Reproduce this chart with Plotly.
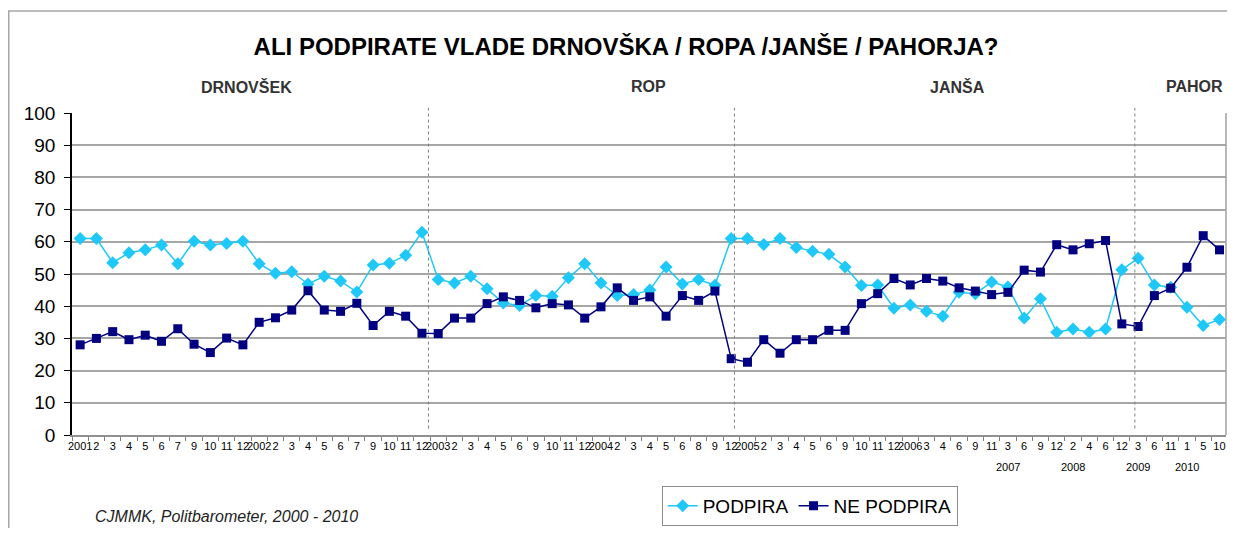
import plotly.graph_objects as go

tick_labels = ["2001", "2", "3", "4", "5", "6", "7", "9", "10", "11", "12",
               "2002", "2", "3", "4", "5", "6", "7", "9", "10", "11", "12",
               "2003", "2", "3", "4", "5", "6", "9", "10", "11", "12",
               "2004", "2", "3", "4", "5", "6", "8", "9", "12",
               "2005", "2", "3", "4", "5", "6", "9", "10", "11", "12",
               "2006", "3", "4", "6", "9", "11",
               "3", "6", "9", "12",
               "2", "4", "6", "12",
               "3", "6", "11",
               "1", "5", "10"]

podpira = [61, 61, 53.5, 56.6, 57.5, 59, 53.2, 60.2, 59, 59.5, 60.2,
           53.2, 50.2, 50.7, 46.9, 49.3, 47.8, 44.4, 52.8, 53.3, 55.8, 63,
           48.3, 47.2, 49.3, 45.4, 41, 40.2, 43.3, 43.1, 48.8, 53.2,
           47.2, 43.3, 43.6, 45, 52.2, 46.9, 48.3, 46.5, 61,
           61, 59.2, 61, 58.2, 57.1, 56.1, 52.2, 46.4, 46.6, 39.4,
           40.4, 38.4, 36.9, 44.3, 43.9, 47.5,
           46, 36.3, 42.3, 31.9,
           32.9, 31.9, 32.9, 51.3,
           54.9, 46.6, 45.9,
           39.7, 34, 35.9]

ne_podpira = [28, 30, 32.1, 29.6, 31, 29.1, 33, 28.2, 25.6, 30.1, 28,
              35, 36.4, 38.8, 44.8, 38.8, 38.4, 40.9, 34, 38.4, 36.9, 31.6,
              31.5, 36.3, 36.3, 40.8, 42.9, 41.8, 39.5, 40.8, 40.4, 36.3,
              39.8, 45.7, 41.8, 42.9, 36.9, 43.3, 41.8, 44.7, 23.7,
              22.6, 29.6, 25.4, 29.6, 29.6, 32.5, 32.5, 40.8, 43.9, 48.6,
              46.6, 48.6, 47.8, 45.7, 44.7, 43.6,
              44.3, 51.2, 50.6, 59.1,
              57.5, 59.4, 60.4, 34.5,
              33.7, 43.3, 45.6,
              52.1, 61.9, 57.5]

# year labels in second row: (index of first survey of year, year)
year_labels = [(57, "2007"), (61, "2008"), (65, "2009"), (68, "2010")]
# government sections: (position index, label)
sections = [(10.25, "DRNOVŠEK"), (34.9, "ROP"), (53.9, "JANŠA")]
section_last = "PAHOR"
# government change dividers (position between surveys)
dividers = [21.4, 40.2, 64.8]

x = list(range(len(tick_labels)))

fig = go.Figure()
fig.add_trace(go.Scatter(
    x=x, y=podpira, name="PODPIRA", mode="lines+markers",
    line=dict(color="#1EC8F8", width=1.5),
    marker=dict(symbol="diamond", size=10, color="#1EC8F8"),
))
fig.add_trace(go.Scatter(
    x=x, y=ne_podpira, name="NE PODPIRA", mode="lines+markers",
    line=dict(color="#000080", width=1.5),
    marker=dict(symbol="square", size=9, color="#000080"),
))

shapes = []
for d in dividers:
    shapes.append(dict(type="line", xref="x", yref="paper", x0=d, x1=d,
                       y0=0.02, y1=1.016,
                       line=dict(color="#808080", width=1, dash="dot")))
# plot-area right border
shapes.append(dict(type="line", xref="paper", yref="paper", x0=1, x1=1, y0=0, y1=1,
                   line=dict(color="#A0A0A0", width=1.5)))
# chart outer frame
shapes.append(dict(type="rect", xref="paper", yref="paper",
                   x0=-0.0548, x1=1.03, y0=-0.40, y1=1.3168,
                   line=dict(color="#A6A6A6", width=1.5)))

annotations = []
for pos, lab in sections:
    annotations.append(dict(x=pos, y=1.081, xref="x", yref="paper", text=lab,
                            showarrow=False, xanchor="center", yanchor="middle",
                            font=dict(family="Liberation Sans, Arial", size=16,
                                      color="#333333", weight="bold")))
annotations.append(dict(x=0.999, y=1.081, xref="paper", yref="paper",
                        text=section_last, showarrow=False, xanchor="right",
                        yanchor="middle",
                        font=dict(family="Liberation Sans, Arial", size=16,
                                  color="#333333", weight="bold")))
for idx, yr in year_labels:
    annotations.append(dict(x=idx, y=-0.099, xref="x", yref="paper", text=yr,
                            showarrow=False, xanchor="center", yanchor="middle",
                            font=dict(family="Liberation Sans Narrow, Arial Narrow, Liberation Sans",
                                      size=11, color="black")))
annotations.append(dict(x=0.018, y=-0.252, xref="paper", yref="paper",
                        text="<i>CJMMK, Politbarometer, 2000 - 2010</i>",
                        showarrow=False, xanchor="left", yanchor="middle",
                        font=dict(family="Liberation Sans, Arial", size=16,
                                  color="#222222")))

# the page body adds an 8px offset; size the figure so that the drawing lands
# where the reference has it and stays inside the visible page
fig.update_layout(
    width=1219, height=520,
    margin=dict(l=64, r=1, t=105, b=93),
    paper_bgcolor="white", plot_bgcolor="white",
    title=dict(text="<b>ALI PODPIRATE VLADE DRNOVŠKA / ROPA /JANŠE / PAHORJA?</b>",
               x=0.507, xanchor="center", y=1 - 39 / 520, yanchor="middle",
               font=dict(family="Liberation Sans, Arial", size=24, color="black")),
    showlegend=True,
    legend=dict(orientation="h", x=0.511, y=-0.282, xanchor="left", yanchor="bottom",
                bordercolor="#8C8C8C", borderwidth=1, bgcolor="white",
                font=dict(family="Liberation Sans, Arial", size=19, color="black"),
                itemwidth=30, tracegroupgap=0),
    shapes=shapes,
    annotations=annotations,
    xaxis=dict(
        range=[-0.5, len(tick_labels) - 0.6],
        tickmode="array", tickvals=x, ticktext=tick_labels, tickangle=0,
        ticks="", showgrid=False, zeroline=False,
        showline=True, linecolor="#909090", linewidth=1.5,
        tickfont=dict(family="Liberation Sans Narrow, Arial Narrow, Liberation Sans",
                      size=11, color="black"),
        minor=dict(tick0=-0.5, dtick=1, ticks="outside", ticklen=4,
                   tickcolor="#808080", tickwidth=1, showgrid=False),
    ),
    yaxis=dict(
        range=[0, 100], tickmode="array", tickvals=list(range(0, 101, 10)),
        showgrid=True, gridcolor="#A6A6A6", gridwidth=1.6, zeroline=False,
        showline=True, linecolor="black", linewidth=1.5,
        ticks="outside", ticklen=6, tickcolor="black", ticklabelstandoff=5,
        tickfont=dict(family="Liberation Sans, Arial", size=19, color="black"),
    ),
)

fig.write_html("out.html")
